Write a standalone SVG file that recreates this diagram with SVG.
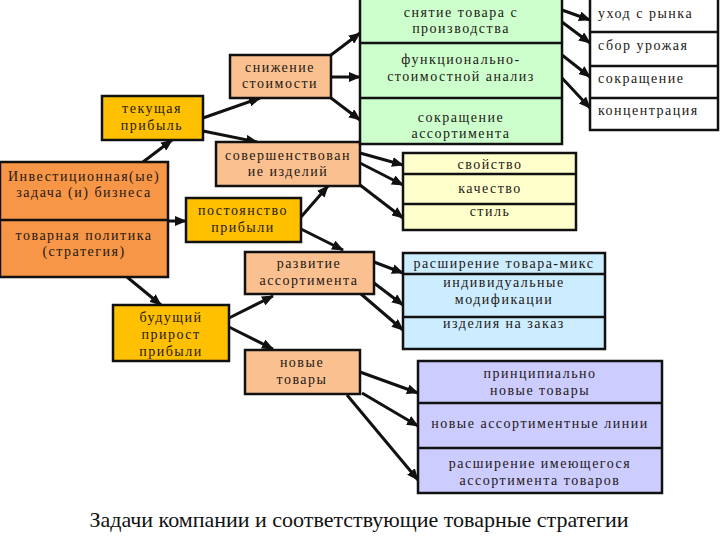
<svg xmlns="http://www.w3.org/2000/svg" width="720" height="540" viewBox="0 0 720 540" font-family="'Liberation Serif', serif">
<defs>
<marker id="ah" markerUnits="userSpaceOnUse" markerWidth="12" markerHeight="10" refX="11" refY="5" orient="auto">
<path d="M0,0 L12,5 L0,10 z" fill="#111"/>
</marker>
<style>
.b{stroke:#111;stroke-width:2.5}
.d{stroke:#111;stroke-width:2.5;fill:none}
text.t{font-family:'Liberation Serif',serif;font-size:14px;letter-spacing:1.5px;fill:#231814;text-anchor:middle}
text.l{text-anchor:start}
.c line{stroke:#111;stroke-width:3;marker-end:url(#ah)}
.org{fill:#F79646}.gold{fill:#FFC000}.peach{fill:#FAC090}.grn{fill:#CCFFCC}.wht{fill:#FFFFFF}.yel{fill:#FFFFCC}.blu{fill:#CCECFF}.pur{fill:#CCCCFF}
</style>
</defs>
<rect width="720" height="540" fill="#fff"/>
<g id="connectors" class="c">
<line x1="143" y1="162" x2="172" y2="140"/>
<line x1="203" y1="118" x2="260" y2="98"/>
<line x1="203" y1="131" x2="257" y2="142"/>
<line x1="168" y1="221" x2="186" y2="221"/>
<line x1="301" y1="217" x2="328" y2="186"/>
<line x1="301" y1="229" x2="343" y2="250"/>
<line x1="331" y1="55" x2="360" y2="33"/>
<line x1="331" y1="77" x2="360" y2="77"/>
<line x1="331" y1="98" x2="360" y2="120"/>
<line x1="562" y1="10" x2="590" y2="20"/>
<line x1="562" y1="22" x2="590" y2="43"/>
<line x1="562" y1="55" x2="590" y2="77"/>
<line x1="562" y1="78" x2="590" y2="108"/>
<line x1="360" y1="153" x2="403" y2="165"/>
<line x1="360" y1="163" x2="403" y2="185"/>
<line x1="360" y1="185" x2="403" y2="218"/>
<line x1="127" y1="277" x2="161" y2="305"/>
<line x1="229" y1="318" x2="273" y2="296"/>
<line x1="229" y1="327" x2="273" y2="349"/>
<line x1="374" y1="262" x2="403" y2="273"/>
<line x1="374" y1="283" x2="403" y2="305"/>
<line x1="361" y1="294" x2="403" y2="330"/>
<line x1="360" y1="372" x2="418" y2="393"/>
<line x1="362" y1="393" x2="418" y2="426"/>
<line x1="347" y1="395" x2="418" y2="480"/>
</g>
<g id="invest">
<rect class="b org" x="0" y="162" width="168" height="115"/>
<line class="d" x1="0" y1="220" x2="168" y2="220"/>
<text class="t" x="84" y="181">Инвестиционная(ые)</text>
<text class="t" x="84" y="197">задача (и) бизнеса</text>
<text class="t" x="84" y="240">товарная политика</text>
<text class="t" x="84" y="256">(стратегия)</text>
</g>
<g id="tek">
<rect class="b gold" x="102" y="96" width="101" height="44"/>
<text class="t" x="152" y="113">текущая</text>
<text class="t" x="152" y="130">прибыль</text>
</g>
<g id="snizh">
<rect class="b peach" x="230" y="55" width="101" height="43"/>
<text class="t" x="280" y="72">снижение</text>
<text class="t" x="280" y="88">стоимости</text>
</g>
<g id="sover">
<rect class="b peach" x="216" y="142" width="144" height="44"/>
<text class="t" x="288" y="160">совершенствован</text>
<text class="t" x="288" y="176">ие изделий</text>
</g>
<g id="post">
<rect class="b gold" x="186" y="198" width="115" height="44"/>
<text class="t" x="243" y="215">постоянство</text>
<text class="t" x="243" y="232">прибыли</text>
</g>
<g id="razv">
<rect class="b peach" x="245" y="252" width="129" height="42"/>
<text class="t" x="309" y="268">развитие</text>
<text class="t" x="309" y="285">ассортимента</text>
</g>
<g id="bud">
<rect class="b gold" x="113" y="305" width="116" height="56"/>
<text class="t" x="171" y="322">будущий</text>
<text class="t" x="171" y="339">прирост</text>
<text class="t" x="171" y="356">прибыли</text>
</g>
<g id="novye">
<rect class="b peach" x="245" y="350" width="115" height="44"/>
<text class="t" x="302" y="367">новые</text>
<text class="t" x="302" y="384">товары</text>
</g>
<g id="green">
<rect class="b grn" x="360" y="-2" width="202" height="146"/>
<line class="d" x1="360" y1="43" x2="562" y2="43"/>
<line class="d" x1="360" y1="98" x2="562" y2="98"/>
<text class="t" x="461" y="17">снятие товара с</text>
<text class="t" x="461" y="33">производства</text>
<text class="t" x="461" y="64">функционально-</text>
<text class="t" x="461" y="81">стоимостной анализ</text>
<text class="t" x="461" y="122">сокращение</text>
<text class="t" x="461" y="138">ассортимента</text>
</g>
<g id="white">
<rect class="b wht" x="590" y="-2" width="128" height="132"/>
<line class="d" x1="590" y1="32" x2="718" y2="32"/>
<line class="d" x1="590" y1="66" x2="718" y2="66"/>
<line class="d" x1="590" y1="98" x2="718" y2="98"/>
<text class="t l" x="598" y="18">уход с рынка</text>
<text class="t l" x="598" y="50">сбор урожая</text>
<text class="t l" x="598" y="83">сокращение</text>
<text class="t l" x="598" y="115">концентрация</text>
</g>
<g id="yellow">
<rect class="b yel" x="403" y="153" width="173" height="77"/>
<line class="d" x1="403" y1="174" x2="576" y2="174"/>
<line class="d" x1="403" y1="204" x2="576" y2="204"/>
<text class="t" x="490" y="169">свойство</text>
<text class="t" x="490" y="193">качество</text>
<text class="t" x="490" y="216">стиль</text>
</g>
<g id="blue">
<rect class="b blu" x="403" y="253" width="202" height="96"/>
<line class="d" x1="403" y1="274" x2="605" y2="274"/>
<line class="d" x1="403" y1="317" x2="605" y2="317"/>
<text class="t" x="504" y="268">расширение товара-микс</text>
<text class="t" x="504" y="287">индивидуальные</text>
<text class="t" x="504" y="304">модификации</text>
<text class="t" x="504" y="328">изделия на заказ</text>
</g>
<g id="purple">
<rect class="b pur" x="418" y="361" width="244" height="132"/>
<line class="d" x1="418" y1="403" x2="662" y2="403"/>
<line class="d" x1="418" y1="448" x2="662" y2="448"/>
<text class="t" x="540" y="378">принципиально</text>
<text class="t" x="540" y="395">новые товары</text>
<text class="t" x="540" y="428">новые ассортиментные линии</text>
<text class="t" x="540" y="468">расширение имеющегося</text>
<text class="t" x="540" y="485">ассортимента товаров</text>
</g>
<text id="title" x="359" y="527" style="font-family:'Liberation Serif',serif;font-size:22px;fill:#111;text-anchor:middle">Задачи компании и соответствующие товарные стратегии</text>
</svg>
